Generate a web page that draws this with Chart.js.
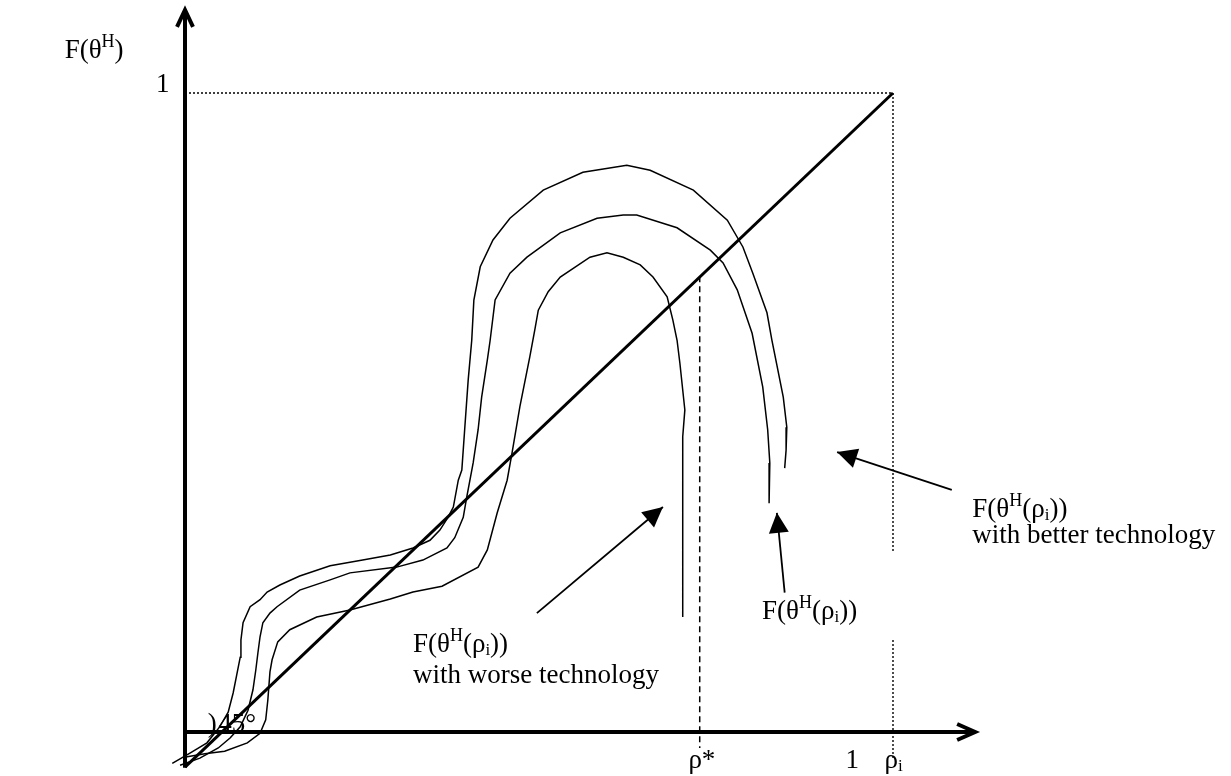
<!DOCTYPE html>
<html>
<head>
<meta charset="utf-8">
<script src="https://cdn.jsdelivr.net/npm/chart.js@4.4.1/dist/chart.umd.min.js"></script>
<style>
  html, body { margin: 0; padding: 0; background: #fff; }
  #wrap { width: 1231px; height: 776px; }
</style>
</head>
<body>
<div id="wrap"><canvas id="canvas" width="1231" height="776"></canvas></div>
<script>
// units: x 0 = origin, 1 = rho_i ; y 0 = origin, 1 = F(theta^H) = 1
// curves, bottom-left end first
const betterTech = [
  [-0.018,-0.049],[0.007,-0.033],[0.031,-0.017],[0.049,0.008],[0.061,0.031],[0.068,0.061],
  [0.073,0.089],[0.078,0.117],[0.079,0.144],[0.082,0.171],[0.092,0.196],[0.106,0.207],
  [0.116,0.219],[0.134,0.230],[0.162,0.244],[0.205,0.260],[0.251,0.269],[0.290,0.277],
  [0.322,0.288],[0.346,0.300],[0.360,0.316],[0.371,0.335],[0.379,0.352],[0.386,0.394],
  [0.391,0.410],[0.395,0.473],[0.400,0.551],[0.405,0.613],[0.408,0.676],[0.417,0.728],
  [0.435,0.770],[0.459,0.804],[0.506,0.848],[0.562,0.876],[0.624,0.887],[0.657,0.879],
  [0.718,0.848],[0.766,0.801],[0.788,0.759],[0.802,0.718],[0.822,0.656],[0.829,0.613],
  [0.836,0.574],[0.845,0.524],[0.850,0.477],[0.849,0.441],[0.847,0.413]
];
const currentTech = [
  [-0.007,-0.052],[0.021,-0.041],[0.047,-0.025],[0.064,-0.009],[0.078,0.008],[0.089,0.034],
  [0.096,0.066],[0.100,0.097],[0.103,0.124],[0.106,0.149],[0.110,0.171],[0.120,0.186],
  [0.130,0.196],[0.162,0.222],[0.205,0.238],[0.233,0.249],[0.299,0.258],[0.336,0.269],
  [0.370,0.288],[0.381,0.304],[0.393,0.336],[0.398,0.368],[0.407,0.421],[0.414,0.473],
  [0.419,0.524],[0.427,0.582],[0.431,0.613],[0.438,0.676],[0.459,0.718],[0.483,0.743],
  [0.530,0.781],[0.582,0.804],[0.619,0.809],[0.638,0.809],[0.695,0.789],[0.742,0.754],
  [0.760,0.734],[0.780,0.692],[0.801,0.624],[0.816,0.540],[0.823,0.473],[0.826,0.421],
  [0.825,0.358]
];
const worseTech = [
  [0.001,-0.039],[0.028,-0.034],[0.056,-0.030],[0.088,-0.017],[0.106,-0.002],[0.114,0.019],
  [0.117,0.050],[0.120,0.094],[0.123,0.113],[0.131,0.141],[0.148,0.160],[0.186,0.180],
  [0.233,0.191],[0.290,0.208],[0.322,0.219],[0.363,0.228],[0.414,0.258],[0.427,0.285],
  [0.441,0.343],[0.455,0.394],[0.462,0.437],[0.473,0.509],[0.487,0.587],[0.494,0.629],
  [0.499,0.660],[0.513,0.689],[0.530,0.712],[0.572,0.743],[0.596,0.750],[0.619,0.743],
  [0.643,0.731],[0.661,0.712],[0.681,0.681],[0.689,0.645],[0.695,0.613],[0.699,0.577],
  [0.706,0.504],[0.703,0.462],[0.703,0.316],[0.703,0.180]
];
const diagonal = [[0,-0.055],[1,1]];
const xAxisEnd = 1.116;
const yAxisEnd = 1.130;
const yAxisFoot = -0.056;
const rhoStar = 0.727;
const rhoStarLevel = 0.713;

// pointer arrows: [fromX, fromY, tipX, tipY]
const pointers = [
  [0.497, 0.186, 0.675, 0.352],
  [0.847, 0.218, 0.836, 0.343],
  [1.083, 0.379, 0.921, 0.438]
];

// text, anchor in the same units
const labelWorse = [['F(θ','n'],['H','sup'],['(ρ','n'],['i','sub'],['))','n']];
const labels = [
  { at: [-0.170, 1.055], parts: [['F(θ','n'],['H','sup'],[')','n']] },
  { at: [-0.041, 1.002], parts: [['1','n']] },
  { at: [0.711, -0.056], parts: [['ρ*','n']] },
  { at: [0.933, -0.056], parts: [['1','n']] },
  { at: [0.988, -0.056], parts: [['ρ','n'],['i','sub']] },
  { at: [0.322, 0.125], parts: labelWorse },
  { at: [0.322, 0.077], parts: [['with worse technology','n']] },
  { at: [0.815, 0.177], parts: labelWorse },
  { at: [1.112, 0.337], parts: labelWorse },
  { at: [1.112, 0.296], parts: [['with better technology','n']] },
  { at: [0.032, 0.000], parts: [[')','n']] },
  { at: [0.047, 0.000], parts: [['45°','n']] }
];

const toPts = arr => arr.map(([x, y]) => ({ x, y }));
const FONT = '"Liberation Serif", "Times New Roman", serif';

function line(data, width, dash) {
  return {
    data: toPts(data), showLine: true, borderColor: '#000', borderWidth: width,
    borderDash: dash || [], pointRadius: 0, fill: false, tension: 0
  };
}

const sketch = {
  id: 'sketch',
  afterDatasetsDraw(chart) {
    const { ctx, scales: { x, y } } = chart;
    ctx.save();
    ctx.fillStyle = '#000';
    ctx.strokeStyle = '#000';

    // open arrow heads on the axes
    ctx.lineWidth = 4;
    ctx.lineJoin = 'miter';
    let tx = x.getPixelForValue(0), ty = y.getPixelForValue(yAxisEnd);
    ctx.beginPath();
    ctx.moveTo(tx - 8, ty + 17); ctx.lineTo(tx, ty); ctx.lineTo(tx + 8, ty + 17);
    ctx.stroke();
    tx = x.getPixelForValue(xAxisEnd); ty = y.getPixelForValue(0);
    ctx.beginPath();
    ctx.moveTo(tx - 18, ty - 8); ctx.lineTo(tx, ty); ctx.lineTo(tx - 18, ty + 8);
    ctx.stroke();

    // filled heads on the pointers
    pointers.forEach(([fx, fy, px, py]) => {
      const ax = x.getPixelForValue(fx), ay = y.getPixelForValue(fy);
      const bx = x.getPixelForValue(px), by = y.getPixelForValue(py);
      const ang = Math.atan2(by - ay, bx - ax);
      const len = 20, half = 10;
      const cx = bx - len * Math.cos(ang), cy = by - len * Math.sin(ang);
      ctx.beginPath();
      ctx.moveTo(bx, by);
      ctx.lineTo(cx + half * Math.sin(ang), cy - half * Math.cos(ang));
      ctx.lineTo(cx - half * Math.sin(ang), cy + half * Math.cos(ang));
      ctx.closePath();
      ctx.fill();
    });

    // labels with super / subscripts
    ctx.textBaseline = 'alphabetic';
    labels.forEach(l => {
      let cx = x.getPixelForValue(l.at[0]);
      const by = y.getPixelForValue(l.at[1]);
      l.parts.forEach(([t, kind]) => {
        let size = 27, dy = 0;
        if (kind === 'sup') { size = 18; dy = -11; }
        if (kind === 'sub') { size = 17; dy = 3; }
        ctx.font = size + 'px ' + FONT;
        ctx.fillText(t, cx, by + dy);
        cx += ctx.measureText(t).width;
      });
    });
    ctx.restore();
  }
};

const ctx = document.getElementById('canvas').getContext('2d');
const myChart = new Chart(ctx, {
  type: 'scatter',
  data: {
    datasets: [
      line([[0, 1], [1, 1]], 1.4, [2, 2]),
      line([[1, 1], [1, 0.280]], 1.4, [2, 2]),
      line([[1, 0.144], [1, -0.041]], 1.4, [2, 2]),
      line([[rhoStar, rhoStarLevel], [rhoStar, -0.025]], 1.5, [6, 4]),
      line(betterTech, 1.5),
      line(currentTech, 1.5),
      line(worseTech, 1.5),
      line(diagonal, 3),
      line([[0, 0], [xAxisEnd, 0]], 4),
      line([[0, yAxisFoot], [0, yAxisEnd]], 4),
      ...pointers.map(([fx, fy, px, py]) => line([[fx, fy], [px, py]], 1.8))
    ]
  },
  options: {
    responsive: false,
    animation: false,
    events: [],
    layout: { padding: 0 },
    plugins: { legend: { display: false }, tooltip: { enabled: false } },
    scales: {
      x: { type: 'linear', min: -0.2613, max: 1.4774, display: false },
      y: { type: 'linear', min: -0.0689, max: 1.1455, display: false }
    }
  },
  plugins: [sketch]
});
</script>
</body>
</html>
